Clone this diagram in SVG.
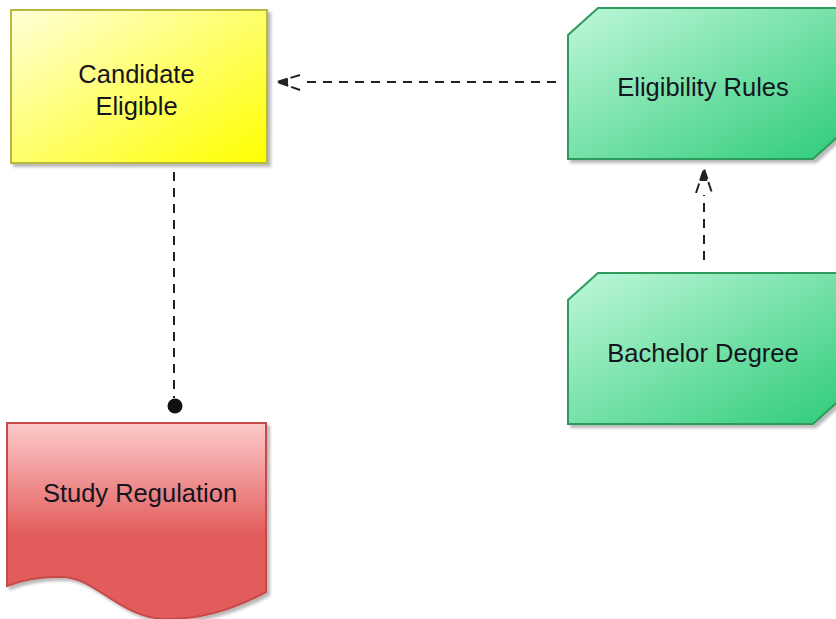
<svg xmlns="http://www.w3.org/2000/svg" width="836" height="619" viewBox="0 0 836 619">
<style>
  text { font-family: "Liberation Sans", Arial, sans-serif; font-size: 25.5px; fill: #15151f; text-anchor: middle; }
  .conn { fill: none; stroke: #222; stroke-width: 2; stroke-dasharray: 9 7; }
  .head { fill: none; stroke: #222; stroke-width: 2; stroke-dasharray: 10 3; }
</style>
<defs>
  <linearGradient id="gYellow" x1="0" y1="0" x2="1" y2="1">
    <stop offset="0" stop-color="#ffffd8"/>
    <stop offset="0.55" stop-color="#ffff60"/>
    <stop offset="1" stop-color="#ffff00"/>
  </linearGradient>
  <linearGradient id="gGreen" x1="0" y1="0" x2="1" y2="1">
    <stop offset="0" stop-color="#bff7da"/>
    <stop offset="1" stop-color="#2ecc78"/>
  </linearGradient>
  <linearGradient id="gRed" x1="0" y1="0" x2="0" y2="1">
    <stop offset="0" stop-color="#fdcaca"/>
    <stop offset="0.57" stop-color="#e35c5c"/>
    <stop offset="1" stop-color="#e35c5c"/>
  </linearGradient>
  <filter id="shadow" x="-10%" y="-10%" width="130%" height="130%">
    <feDropShadow dx="3" dy="3" stdDeviation="1.5" flood-color="#000" flood-opacity="0.28"/>
  </filter>
</defs>

<g id="connectors">
  <!-- Eligibility Rules -> Candidate Eligible -->
  <path class="conn" d="M556,82 L302,82"/>
  <path class="head" d="M300,75 L277,82 L300,90"/>
  <path d="M277,82 L288,78.5 L288,85.5 Z" fill="#222"/>
  <!-- Bachelor Degree -> Eligibility Rules -->
  <path class="conn" d="M704,260 L704,195"/>
  <path class="head" d="M696,193 L704,169 L712,193"/>
  <path d="M704,169 L700.5,181 L707.5,181 Z" fill="#222"/>
  <!-- Candidate Eligible - Study Regulation -->
  <path class="conn" d="M174,172 L174,398"/>
  <circle cx="175" cy="406" r="7.5" fill="#111"/>
</g>

<g id="node-candidate-eligible">
  <rect x="11" y="10" width="256" height="153" fill="url(#gYellow)" stroke="#b8b840" stroke-width="2" filter="url(#shadow)"/>
  <text x="136.5" y="83">Candidate</text>
  <text x="136.5" y="115">Eligible</text>
</g>

<g id="node-eligibility-rules">
  <path d="M598,8 L843,8 L843,132 L813,159 L568,159 L568,35 Z" fill="url(#gGreen)" stroke="#2e9a5c" stroke-width="2" filter="url(#shadow)"/>
  <text x="703" y="96">Eligibility Rules</text>
</g>

<g id="node-bachelor-degree">
  <path d="M598,273 L843,273 L843,397 L813,424 L568,424 L568,300 Z" fill="url(#gGreen)" stroke="#2e9a5c" stroke-width="2" filter="url(#shadow)"/>
  <text x="703" y="362">Bachelor Degree</text>
</g>

<g id="node-study-regulation">
  <path d="M7,423 L266,423 L266,592 Q 215,620 165,619 C 120,618 95,577 62,577 Q 32,576 7,586 Z" fill="url(#gRed)" stroke="#c84a4a" stroke-width="2" filter="url(#shadow)"/>
  <text x="140" y="502">Study Regulation</text>
</g>
</svg>
